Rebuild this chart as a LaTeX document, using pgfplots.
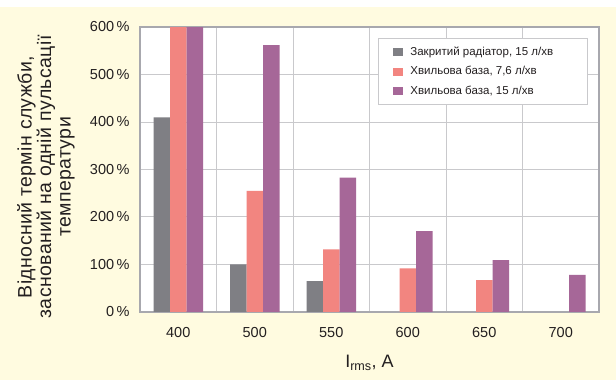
\documentclass[border=0pt]{standalone}
\usepackage{fontspec}
\setmainfont{Liberation Sans}
\newfontfamily\labfont[LetterSpace=2]{Liberation Sans}
\usepackage{pgfplots}
\pgfplotsset{compat=1.18}
\definecolor{bgy}{HTML}{FFFBE0}
\definecolor{cgrey}{HTML}{7F7F84}
\definecolor{csalmon}{HTML}{F28580}
\definecolor{cpurple}{HTML}{A66798}
\definecolor{gridc}{HTML}{C9C9CC}
\definecolor{framec}{HTML}{A8A8AE}
\definecolor{txt}{HTML}{231F20}
\begin{document}
\begin{tikzpicture}
\useasboundingbox (0pt,0pt) rectangle (616pt,380pt);
\fill[bgy] (0pt,0pt) rectangle (616pt,373pt);
\begin{axis}[
  at={(140pt,68pt)}, anchor=south west,
  width=459pt, height=285pt, scale only axis,
  ybar=0pt, bar width=16.5pt,
  xmin=-0.5, xmax=5.5, ymin=0, ymax=600,
  xtick={0,1,2,3,4,5},
  xticklabels={400,500,550,600,650,700},
  minor xtick={0.5,1.5,2.5,3.5,4.5},
  ytick={0,100,...,600},
  xminorgrids=true, ymajorgrids=true,
  grid style={draw=gridc, line width=1pt},
  minor grid style={draw=gridc, line width=1pt},
  major tick length=0pt, minor tick length=0pt,
  axis line style={draw=framec, line width=1.6pt},
  axis background/.style={fill=white},
  /pgf/number format/assume math mode=true,
  yticklabel={\pgfmathprintnumber{\tick}\,\%},
  tick label style={font=\fontsize{14.5}{16}\selectfont, text=txt},
  xticklabel style={anchor=base, yshift=-25.5pt},
  yticklabel style={xshift=-7pt},
  xlabel={I\textsubscript{rms}, A},
  xlabel style={at={(axis description cs:0.5,-0.196)}, anchor=base, font=\fontsize{18}{20}\selectfont, text=txt},
  legend style={at={(0.5185,0.961)}, anchor=north west, draw=gridc, line width=0.8pt, fill=white,
    font=\fontsize{11.5}{13}\selectfont, text=txt, row sep=6pt, inner xsep=15pt, inner ysep=6pt,
    /tikz/every odd column/.append style={column sep=5pt}},
  legend cell align=left,
]
\addplot[fill=cgrey, draw=none, legend image code/.code={\fill[cgrey] (0pt,-4pt) rectangle (10pt,4pt);}]
  coordinates {(0,410) (1,100) (2,65)};
\addlegendentry{Закритий радіатор, 15 л/хв\hspace*{17pt}}
\addplot[fill=csalmon, draw=none, legend image code/.code={\fill[csalmon] (0pt,-4pt) rectangle (10pt,4pt);}]
  coordinates {(0,600) (1,255) (2,132) (3,92) (4,67)};
\addlegendentry{Хвильова база, 7,6 л/хв}
\addplot[fill=cpurple, draw=none, legend image code/.code={\fill[cpurple] (0pt,-4pt) rectangle (10pt,4pt);}]
  coordinates {(0,600) (1,562) (2,283) (3,170) (4,109) (5,78)};
\addlegendentry{Хвильова база, 15 л/хв}
\end{axis}
\node[rotate=90, align=center, font=\labfont\fontsize{19.5}{19.5}\selectfont, text=txt] at (46pt,203pt)
  {Відносний термін служби,\\ заснований на одній пульсації\\ температури};
\end{tikzpicture}
\end{document}
